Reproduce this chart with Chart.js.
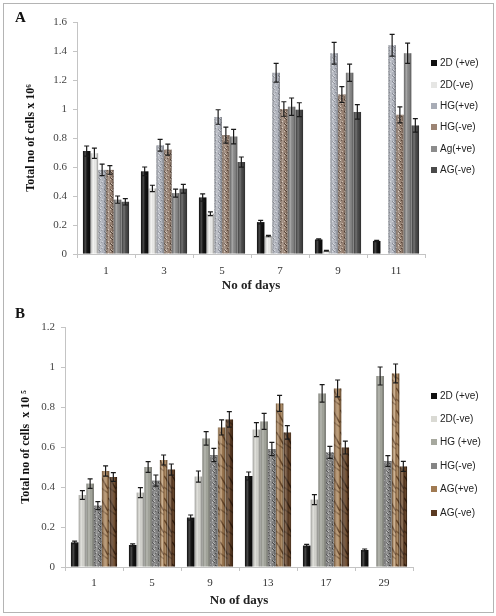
<!DOCTYPE html>
<html>
<head>
<meta charset="utf-8">
<script src="https://cdn.jsdelivr.net/npm/chart.js@4.4.0/dist/chart.umd.min.js"></script>
<style>
  body { margin: 0; background: #fff; width: 496px; height: 616px; position: relative; overflow: hidden; }
  .panel { position: absolute; left: 3px; width: 489px; border: 1px solid #b4b4b4; background: #fff; }
  #panelA { top: 3px; height: 293px; }
  #panelB { top: 297px; height: 315px; border-top: none; }
  .panel canvas { position: absolute; left: 0; top: 0; }
  .tag { position: absolute; font: bold 15px "Liberation Serif", serif; color: #111; }
  .legend { position: absolute; font: 10px "Liberation Sans", sans-serif; color: #222; }
  .legend div { position: absolute; white-space: nowrap; line-height: 12px; }
  .legend span { display: inline-block; width: 6px; height: 6px; margin-right: 3px; vertical-align: 0px; }
</style>
</head>
<body>
<div class="panel" id="panelA">
  <canvas id="chartA" width="489" height="293"></canvas>
</div>
<div class="panel" id="panelB">
  <canvas id="chartB" width="489" height="315"></canvas>
</div>
<div class="tag" style="left:15px;top:9px">A</div>
<div class="tag" style="left:15px;top:305px">B</div>
<div class="legend" id="legendA" style="left:431px;top:0"></div>
<div class="legend" id="legendB" style="left:431px;top:0"></div>

<script>
// ---- panel A data ----
const daysA = ["1", "3", "5", "7", "9", "11"];
const namesA = ["2D (+ve)", "2D(-ve)", "HG(+ve)", "HG(-ve)", "Ag(+ve)", "AG(-ve)"];
const a2dPos = [0.71, 0.57, 0.39, 0.22, 0.10, 0.09];
const a2dNeg = [0.695, 0.452, 0.278, 0.124, 0.022, 0];
const aHgPos = [0.58, 0.75, 0.945, 1.25, 1.385, 1.44];
const aHgNeg = [0.58, 0.72, 0.82, 1.0, 1.10, 0.96];
const aAgPos = [0.375, 0.42, 0.81, 1.016, 1.25, 1.385];
const aAgNeg = [0.36, 0.45, 0.634, 0.995, 0.98, 0.887];
const a2dPosErr = [0.035, 0.03, 0.025, 0.012, 0.005, 0.004];
const a2dNegErr = [0.035, 0.022, 0.013, 0.005, 0.003, 0];
const aHgPosErr = [0.04, 0.04, 0.05, 0.065, 0.075, 0.075];
const aHgNegErr = [0.03, 0.038, 0.055, 0.05, 0.055, 0.055];
const aAgPosErr = [0.025, 0.028, 0.05, 0.06, 0.06, 0.07];
const aAgNegErr = [0.022, 0.03, 0.035, 0.048, 0.05, 0.047];

// ---- panel B data ----
const daysB = ["1", "5", "9", "13", "17", "29"];
const namesB = ["2D (+ve)", "2D(-ve)", "HG (+ve)", "HG(-ve)", "AG(+ve)", "AG(-ve)"];
const b2dPos = [0.123, 0.11, 0.247, 0.455, 0.107, 0.085];
const b2dNeg = [0.36, 0.372, 0.452, 0.687, 0.337, 0];
const bHgPos = [0.417, 0.50, 0.643, 0.728, 0.868, 0.955];
const bHgNeg = [0.307, 0.432, 0.56, 0.59, 0.573, 0.53];
const bAgPos = [0.48, 0.535, 0.698, 0.818, 0.893, 0.968];
const bAgNeg = [0.45, 0.487, 0.738, 0.673, 0.597, 0.503];
const b2dPosErr = [0.006, 0.006, 0.013, 0.02, 0.006, 0.005];
const b2dNegErr = [0.022, 0.025, 0.028, 0.035, 0.025, 0];
const bHgPosErr = [0.024, 0.027, 0.034, 0.04, 0.044, 0.045];
const bHgNegErr = [0.02, 0.028, 0.033, 0.033, 0.03, 0.027];
const bAgPosErr = [0.026, 0.025, 0.038, 0.04, 0.042, 0.047];
const bAgNegErr = [0.022, 0.028, 0.039, 0.034, 0.032, 0.025];

// small texture tiles for the textured bars
function speckle(base, light, dark) {
  const c = document.createElement("canvas");
  c.width = 6; c.height = 6;
  const x = c.getContext("2d");
  x.fillStyle = base; x.fillRect(0, 0, 6, 6);
  for (let i = 0; i < 6; i++) {
    for (let j = 0; j < 6; j++) {
      const h = (i * 37 + j * 101 + i * j * 13) % 7;
      if (h === 0) { x.fillStyle = light; x.fillRect(i, j, 1, 1); }
      if (h === 3) { x.fillStyle = dark; x.fillRect(i, j, 1, 1); }
    }
  }
  return x.createPattern(c, "repeat");
}

function wood(base, light, dark) {
  const c = document.createElement("canvas");
  c.width = 8; c.height = 22;
  const x = c.getContext("2d");
  x.fillStyle = base; x.fillRect(0, 0, 8, 22);
  x.fillStyle = light; x.globalAlpha = 0.6;
  x.fillRect(1, 0, 1, 22); x.fillRect(5, 0, 2, 22);
  x.globalAlpha = 0.8; x.strokeStyle = dark; x.lineWidth = 1.5;
  x.beginPath(); x.moveTo(0, 3); x.bezierCurveTo(3, 6, 5, 12, 8, 16); x.stroke();
  x.globalAlpha = 0.5;
  x.beginPath(); x.moveTo(0, 14); x.lineTo(8, 20); x.stroke();
  return x.createPattern(c, "repeat");
}

// cylinder shading + error bars drawn on top of the library's bars
const barDecor = {
  id: "barDecor",
  afterDatasetsDraw(chart) {
    const ctx = chart.ctx;
    const ys = chart.scales.y;
    ctx.save();
    chart.data.datasets.forEach((ds, i) => {
      chart.getDatasetMeta(i).data.forEach((bar, j) => {
        if (!ds.data[j]) return;
        const w = bar.width, x0 = bar.x - w / 2;
        const g = ctx.createLinearGradient(x0, 0, x0 + w, 0);
        g.addColorStop(0, "rgba(0,0,0,0.28)");
        g.addColorStop(0.35, "rgba(255,255,255,0.22)");
        g.addColorStop(0.7, "rgba(0,0,0,0.03)");
        g.addColorStop(1, "rgba(0,0,0,0.38)");
        ctx.fillStyle = g;
        ctx.fillRect(x0, bar.y, w, bar.base - bar.y);
      });
    });
    ctx.strokeStyle = "#1a1a1a";
    ctx.lineWidth = 1.2;
    chart.data.datasets.forEach((ds, i) => {
      chart.getDatasetMeta(i).data.forEach((bar, j) => {
        const v = ds.data[j], e = ds.errors[j];
        if (!v) return;
        const top = ys.getPixelForValue(v + e);
        const bot = ys.getPixelForValue(v - e);
        ctx.beginPath();
        ctx.moveTo(bar.x, top); ctx.lineTo(bar.x, bot);
        ctx.moveTo(bar.x - 2.5, top); ctx.lineTo(bar.x + 2.5, top);
        ctx.moveTo(bar.x - 2.5, bot); ctx.lineTo(bar.x + 2.5, bot);
        ctx.stroke();
      });
    });
    ctx.restore();
  }
};

function buildChart(id, cfg) {
  const datasets = cfg.series.map((s, k) => ({
    label: cfg.names[k],
    data: s,
    errors: cfg.errors[k],
    backgroundColor: cfg.fills[k],
    borderWidth: 0,
    barPercentage: 0.96,
    categoryPercentage: 0.8
  }));
  return new Chart(document.getElementById(id), {
    type: "bar",
    data: { labels: cfg.labels, datasets: datasets },
    plugins: [barDecor],
    options: {
      responsive: false,
      animation: false,
      layout: { padding: { left: 0, right: cfg.padRight, top: cfg.padTop, bottom: 0 } },
      plugins: { legend: { display: false }, tooltip: { enabled: false } },
      scales: {
        x: {
          grid: { display: true, drawOnChartArea: false, drawTicks: true, tickLength: 4, color: "#c4c4c4" },
          border: { color: "#c4c4c4" },
          ticks: { color: "#333", padding: cfg.xTickPad, font: { family: "Liberation Serif", size: 11 } },
          title: { display: true, text: "No of days", color: "#222",
                   padding: { top: 0, bottom: 4 }, font: { family: "Liberation Serif", size: 13, weight: "bold" } },
          afterFit: (s) => { s.height = cfg.xHeight; }
        },
        y: {
          min: 0, max: cfg.yMax,
          grid: { display: true, drawOnChartArea: false, drawTicks: true, tickLength: 4, color: "#c4c4c4" },
          border: { color: "#c4c4c4" },
          ticks: {
            stepSize: 0.2, color: "#444", padding: 6,
            font: { family: "Liberation Serif", size: 11 },
            callback: (v) => String(Number(v.toFixed(1)))
          },
          title: { display: true, text: cfg.yTitle, color: "#111",
                   padding: { top: cfg.yTitlePad, bottom: 0 }, font: { family: "Liberation Serif", size: 12, weight: "bold" } },
          afterFit: (s) => { s.width = cfg.yWidth; }
        }
      }
    }
  });
}

const fillsA = [
  "#101010",
  "#f3f3f1",
  speckle("#b6bac4", "#dde0e7", "#8c909a"),
  speckle("#9c8474", "#d6c6b6", "#5c483c"),
  "#8c8c8c",
  "#4a4a4a"
];
const swatchA = ["#101010", "#e6e6e4", "#a8acb6", "#9c8474", "#8c8c8c", "#4a4a4a"];

const fillsB = [
  "#101010",
  "#dadad4",
  "#a6a89e",
  speckle("#858585", "#bababa", "#4e4e4e"),
  wood("#a07a52", "#d2b28c", "#5a3a1e"),
  wood("#5a3a22", "#86603f", "#2c190b")
];
const swatchB = ["#101010", "#dadad4", "#a6a89e", "#858585", "#a07a52", "#5a3a22"];

buildChart("chartA", {
  labels: daysA, names: namesA,
  series: [a2dPos, a2dNeg, aHgPos, aHgNeg, aAgPos, aAgNeg],
  errors: [a2dPosErr, a2dNegErr, aHgPosErr, aHgNegErr, aAgPosErr, aAgNegErr],
  fills: fillsA, yMax: 1.6, yTitle: "Total no of cells x 10\u2076",
  padRight: 68, padTop: 18, xHeight: 43, yWidth: 73, xTickPad: 7, yTitlePad: 20
});

buildChart("chartB", {
  labels: daysB, names: namesB,
  series: [b2dPos, b2dNeg, bHgPos, bHgNeg, bAgPos, bAgNeg],
  errors: [b2dPosErr, b2dNegErr, bHgPosErr, bHgNegErr, bAgPosErr, bAgNegErr],
  fills: fillsB, yMax: 1.2, yTitle: "Total no of cells  x 10 \u2075",
  padRight: 80, padTop: 30, xHeight: 45, yWidth: 61, xTickPad: 6, yTitlePad: 15
});

// legends
function buildLegend(id, names, colors, rowsY) {
  const box = document.getElementById(id);
  names.forEach((n, k) => {
    const d = document.createElement("div");
    d.style.top = (rowsY[k] - 6) + "px";
    d.innerHTML = '<span style="background:' + colors[k] + '"></span>' + n;
    box.appendChild(d);
  });
}
buildLegend("legendA", namesA, swatchA, [63, 85, 106, 127, 149, 170]);
buildLegend("legendB", namesB, swatchB, [396, 419, 442, 466, 489, 513]);
</script>
</body>
</html>
